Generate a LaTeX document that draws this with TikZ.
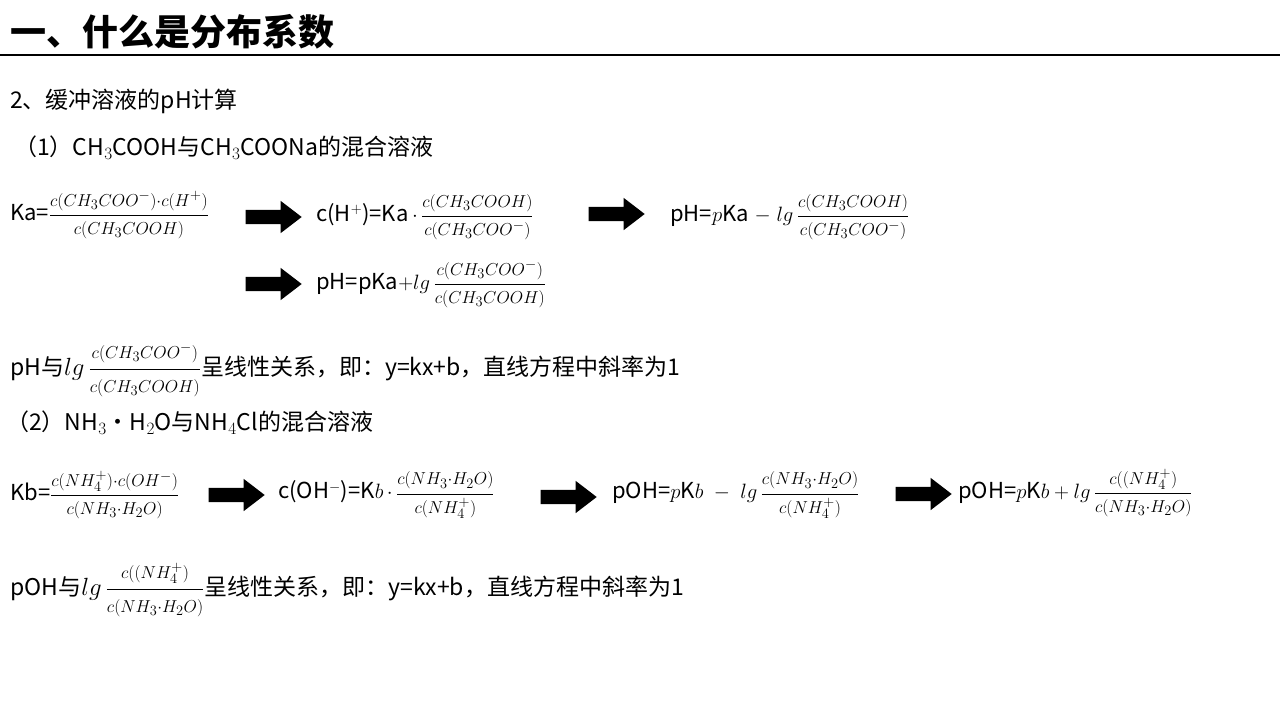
\documentclass[tikz,border=0pt]{standalone}
\usepackage{fontspec}
\setmainfont{Noto Sans CJK SC}
\usetikzlibrary{shapes.arrows}
\tikzset{
  txt/.style={anchor=west, inner sep=0pt, font=\fontsize{23}{27}\selectfont},
  fml/.style={anchor=west, inner sep=0pt, font=\fontsize{22}{26}\selectfont},
  bigarrow/.style={single arrow, fill=black, draw=none, minimum height=56pt,
    inner sep=0pt, text height=14pt, text depth=0pt, text width=0pt,
    single arrow head extend=9pt, single arrow tip angle=75},
}
\newcommand\fr[2]{$\displaystyle\frac{\mbox{\fontsize{19}{20}\selectfont$#1$}}{\mbox{\fontsize{19}{20}\selectfont$#2$}}$}
\begin{document}
\begin{tikzpicture}[x=1pt,y=-1pt]
	\useasboundingbox (0,0) rectangle (1280,720);

	% Title
	\node[anchor=west, inner sep=0pt, font=\fontsize{36}{40}\selectfont\bfseries] (title) at (10,32) {一、什么是分布系数};
	\draw[line width=2pt] (0,55) -- (1280,55);

	% Part 1
	\node[txt] (sub) at (10,101) {2、缓冲溶液的pH计算};
	\node[txt] (p1) at (14,148) {（1）CH$_3$COOH与CH$_3$COONa的混合溶液};

	\node[fml] (ka) at (10,215) {Ka=\fr{c(CH_3COO^-){\cdot}c(H^+)}{c(CH_3COOH)}};
	\node[bigarrow] (a1) at (269,217) {};
	\node[fml] (ch) at (316,217) {c(H$^+$)=Ka$\,\cdot\,$\fr{c(CH_3COOH)}{c(CH_3COO^-)}};
	\node[bigarrow] (a2) at (612,214) {};
	\node[fml] (ph1) at (670,217) {pH=$p$Ka$\;-\;lg\,$\fr{c(CH_3COOH)}{c(CH_3COO^-)}};
	\node[bigarrow] (a3) at (269,284) {};
	\node[fml] (ph2) at (316,284) {pH=pKa$+lg\,$\fr{c(CH_3COO^-)}{c(CH_3COOH)}};

	\node[txt] (lin1) at (10,370) {pH与$lg\,$\fr{c(CH_3COO^-)}{c(CH_3COOH)}呈线性关系，即：y=kx+b，直线方程中斜率为1};

	% Part 2
	\node[txt] (p2) at (6,423) {（2）NH$_3$・H$_2$O与NH$_4$Cl的混合溶液};

	\node[fml] (kb) at (10,495) {Kb=\fr{c(NH_4^+){\cdot}c(OH^-)}{c(NH_3{\cdot}H_2O)}};
	\node[bigarrow] (b1) at (232,495) {};
	\node[fml] (coh) at (278,495) {c(OH$^-$)=K$b\,\cdot\,$\fr{c(NH_3{\cdot}H_2O)}{c(NH_4^+)}};
	\node[bigarrow] (b2) at (564,497) {};
	\node[fml] (poh1) at (612,495) {pOH=$p$K$b\;-\;lg\,$\fr{c(NH_3{\cdot}H_2O)}{c(NH_4^+)}};
	\node[bigarrow] (b3) at (919,494) {};
	\node[fml] (poh2) at (958,493) {pOH=$p$K$b+lg\,$\fr{c((NH_4^+)}{c(NH_3{\cdot}H_2O)}};

	\node[txt] (lin2) at (10,590) {pOH与$lg\,$\fr{c((NH_4^+)}{c(NH_3{\cdot}H_2O)}呈线性关系，即：y=kx+b，直线方程中斜率为1};
\end{tikzpicture}
\end{document}
